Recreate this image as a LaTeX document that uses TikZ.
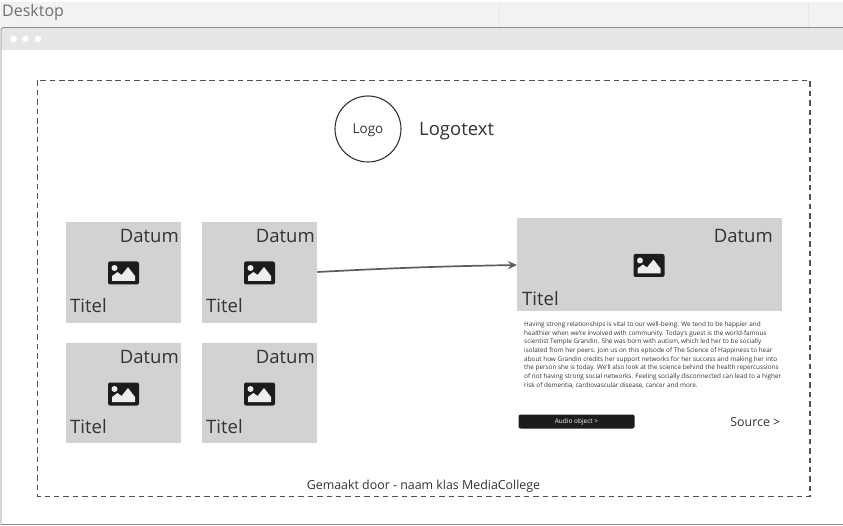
\documentclass[tikz,border=0pt]{standalone}
\usepackage{fontspec}
\setmainfont{Open Sans}
\usetikzlibrary{arrows.meta}
\definecolor{barlight}{HTML}{F2F2F2}
\definecolor{bardark}{HTML}{E6E6E6}
\definecolor{cardgray}{HTML}{D2D2D2}
\definecolor{inkgray}{HTML}{333333}
\definecolor{edgegray}{HTML}{8C8C8C}
\definecolor{iconblack}{HTML}{1C1C1C}
\tikzset{
    card/.style={fill=cardgray, inner sep=0pt, anchor=north west},
    cardtext/.style={text=inkgray, font=\fontsize{18.5}{20}\selectfont, inner sep=0pt},
    footertext/.style={text=inkgray, font=\fontsize{12.4}{15}\selectfont, inner sep=0pt},
    dot/.style={circle, fill=white, inner sep=0pt, minimum size=6.5pt},
}
% icon in the middle of a card
\newcommand{\cardicon}[2]{
    \fill[iconblack, rounded corners=2pt](#1-15.5,#2-11.5)rectangle(#1+15.5,#2+11.5);
    \fill[cardgray!40!white](#1-11.5,#2+8)--(#1-11.5,#2+3)--(#1-6,#2-1)--(#1-2,#2+2)--(#1+4.5,#2-6)--(#1+11.5,#2+3)--(#1+11.5,#2+8)--cycle;
    \fill[cardgray!40!white](#1-9,#2-5)circle(3pt);
}
\begin{document}
\begin{tikzpicture}[x=1pt,y=-1pt]
    \useasboundingbox(0,0)rectangle(843,526);
    % bars of the window
    \fill[barlight](0,2)rectangle(843,27);
    \fill[bardark](1,28)rectangle(843,50);
    \draw[edgegray, line width=0.9pt](843,27.5)--(3,27.5)--(1,29.5)--(1,524.5)--(843,524.5);
    \draw[bardark, line width=0.6pt](499,3)--(499,27);
    \draw[bardark, line width=0.6pt](808,3)--(808,27);
    \node[text=edgegray!80!black, font=\fontsize{16}{18}\selectfont, inner sep=0pt, anchor=west](desktop)at(2,12){Desktop};
    \foreach \i/\x in {1/13.5,2/25.5,3/38}
        \node[dot](dot\i)at(\x,39){};
    % frame
    \draw[inkgray!85!white, line width=1.2pt, dash pattern=on 5.5pt off 3.9pt](37.5,80.5)rectangle(810,496.5);
    % logo
    \node[circle, draw=inkgray, line width=1.1pt, minimum size=66pt, inner sep=0pt, text height=13pt, text depth=3.5pt, text=inkgray, font=\fontsize{13.5}{16}\selectfont](logo)at(368,129){Logo};
    \node[text=inkgray, font=\fontsize{18.5}{20}\selectfont, inner sep=0pt, anchor=west](logotext)at(419,131.5){Logotext};
    % cards
    \foreach \n/\x/\y/\h in {a/66/222/101,b/202/222/101,c/66/343/100,d/202/343/100}{
        \node[card, minimum width=115pt, minimum height=\h pt](card\n)at(\x,\y){};
        \node[cardtext, anchor=east](datum\n)at(\x+113,\y+14){Datum};
        \node[cardtext, anchor=west](titel\n)at(\x+4,\y+83.5){Titel};
        \cardicon{\x+57.5}{\y+51}
    }
    \node[card, minimum width=265pt, minimum height=93pt](cardmain)at(517,218){};
    \node[cardtext, anchor=east](datummain)at(773,236){Datum};
    \node[cardtext, anchor=west](titelmain)at(522,298.5){Titel};
    \cardicon{649}{265.5}
    % arrow to the big card
    \draw[-{Stealth[length=9pt,width=8pt]}, inkgray!80!white, line width=1.7pt](cardb.east|-0,272)to[out=3, in=181](cardmain.west|-0,265);
    % text of the big card
    \node[anchor=north west, align=left, inner sep=0pt, text=inkgray, font=\fontsize{6.38}{8.65}\selectfont](bodytext)at(524,321.5){Having strong relationships is vital to our well-being. We tend to be happier and\\
    healthier when we're involved with community. Today's guest is the world-famous\\
    scientist Temple Grandin. She was born with autism, which led her to be socially\\
    isolated from her peers. Join us on this episode of The Science of Happiness to hear\\
    about how Grandin credits her support networks for her success and making her into\\
    the person she is today. We'll also look at the science behind the health repercussions\\
    of not having strong social networks. Feeling socially disconnected can lead to a higher\\
    risk of dementia, cardiovascular disease, cancer and more.};
    \node[fill=iconblack, rounded corners=2pt, minimum width=116pt, minimum height=14pt, inner sep=0pt, text=white, font=\fontsize{6.5}{8}\selectfont, anchor=center](audio)at(576.5,421.5){Audio object >};
    \node[footertext, anchor=east](source)at(780.5,422.5){Source >};
    \node[footertext, anchor=center](footer)at(423.5,486){Gemaakt door - naam klas MediaCollege};
\end{tikzpicture}
\end{document}
